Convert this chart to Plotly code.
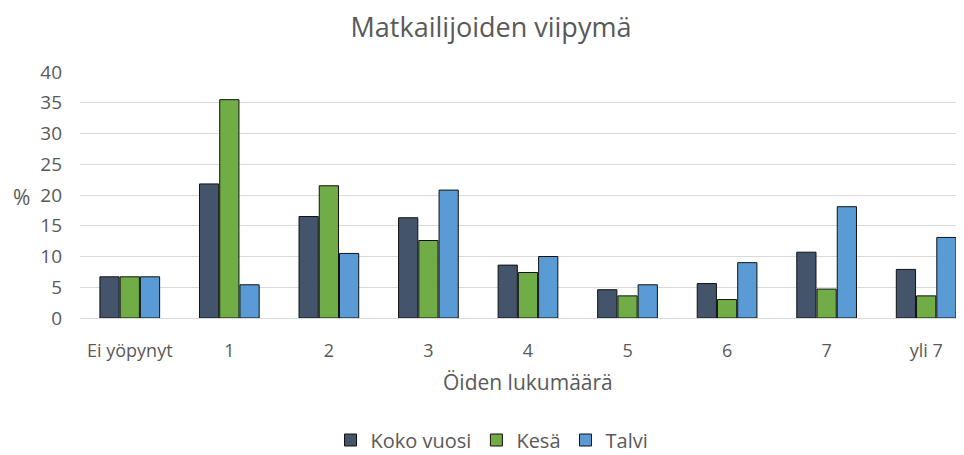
import plotly.graph_objects as go

categories = ["Ei yöpynyt", "1", "2", "3", "4", "5", "6", "7", "yli 7"]
koko_vuosi = [6.7, 21.8, 16.5, 16.3, 8.6, 4.6, 5.6, 10.7, 7.9]
kesa = [6.7, 35.5, 21.5, 12.6, 7.4, 3.6, 3.0, 4.7, 3.6]
talvi = [6.7, 5.4, 10.5, 20.8, 10.0, 5.4, 9.0, 18.1, 13.1]
series_names = ["Koko vuosi", "Kesä", "Talvi"]
colors = ["#44546A", "#70AD47", "#5B9BD5"]
y_ticks = [0, 5, 10, 15, 20, 25, 30, 35, 40]

FONT = "Open Sans"
GREY = "#595959"
OFF = 8  # default page body margin
W, HT = 964 - OFF, 455 - OFF
PLOT_LEFT, PLOT_TOP, PLOT_BOTTOM = 80 - OFF, 72 - OFF, 318 - OFF
H = PLOT_BOTTOM - PLOT_TOP
PW = W - PLOT_LEFT


def px(xr):
    return (xr - OFF - PLOT_LEFT) / PW


def py(yr):
    return (PLOT_BOTTOM - (yr - OFF)) / H


fig = go.Figure()
for name, vals, col in zip(series_names, [koko_vuosi, kesa, talvi], colors):
    fig.add_trace(go.Bar(
        x=categories, y=vals, name=name,
        marker=dict(color=col, line=dict(color="#111111", width=1)),
    ))

fig.update_layout(
    width=W, height=HT,
    margin=dict(l=PLOT_LEFT, r=0, t=PLOT_TOP, b=HT - PLOT_BOTTOM, autoexpand=False),
    paper_bgcolor="white", plot_bgcolor="white",
    barmode="group", bargap=0.39, bargroupgap=0.05,
    font=dict(family=FONT, color=GREY, size=17),
    title=dict(text="Matkailijoiden viipymä", x=(491 - OFF) / W, xanchor="center", xref="container",
               y=1 - (28 - OFF) / HT, yanchor="middle", yref="container",
               font=dict(size=27, color=GREY, family=FONT)),
    legend=dict(orientation="h", yref="paper", y=py(440), yanchor="middle",
                x=px(492), xanchor="center", font=dict(size=20, color=GREY),
                itemwidth=30, traceorder="normal", tracegroupgap=0),
    showlegend=True,
)
fig.update_xaxes(
    range=[-0.5, 8.38], showgrid=False, showline=True, linecolor="#D9D9D9", linewidth=1,
    ticks="", ticklabelstandoff=16, tickfont=dict(size=18, color=GREY), automargin=False,
)
fig.update_yaxes(
    range=[0, 40], tickvals=y_ticks, showgrid=True, gridcolor="#D9D9D9", gridwidth=1,
    zeroline=False, showline=False, ticks="", ticklabelstandoff=17,
    tickfont=dict(size=19, color=GREY), automargin=False,
)
fig.add_annotation(text="%", xref="paper", yref="paper", x=px(21), y=py(197),
                   showarrow=False, font=dict(size=21, color=GREY), xanchor="center", yanchor="middle")
fig.add_annotation(text="Öiden lukumäärä", xref="paper", yref="paper",
                   x=px(528), y=py(382), showarrow=False,
                   font=dict(size=21, color=GREY), xanchor="center", yanchor="middle")

fig.write_html("out.html")
